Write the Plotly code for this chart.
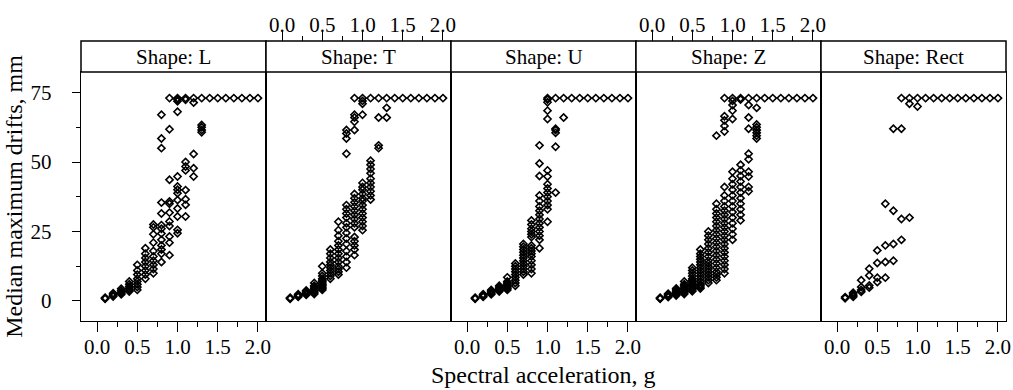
import plotly.graph_objects as go

sa_levels = [0.1, 0.2, 0.3, 0.4, 0.5, 0.6, 0.7, 0.8, 0.9, 1.0,
             1.1, 1.2, 1.3, 1.4, 1.5, 1.6, 1.7, 1.8, 1.9, 2.0]
shapes = ["L", "T", "U", "Z", "Rect"]

drift_L = [
    [0.8, 1.0, 1.2],
    [1.6, 2.0, 2.4, 2.8],
    [2.4, 2.8, 3.2, 3.8, 4.4],
    [3.4, 4.0, 4.6, 5.2, 6.0, 7.0],
    [4.0, 5.0, 6.0, 7.0, 8.0, 9.5, 11.0, 13.0],
    [8.0, 9.5, 11.0, 12.5, 14.0, 15.5, 17.0, 19.0],
    [10.0, 11.5, 13.0, 14.5, 16.0, 18.0, 21.0, 24.0, 26.5, 27.5],
    [14.0, 17.0, 18.5, 20.0, 22.0, 24.3, 26.0, 27.3, 31.5, 35.4, 55.0, 58.5, 67.0],
    [16.5, 21.0, 23.2, 27.0, 28.6, 31.8, 35.0, 35.8, 43.6, 61.8, 73.0],
    [24.4, 25.6, 30.4, 33.3, 36.3, 38.8, 40.0, 41.2, 44.8, 68.1, 71.9, 72.5, 73.0],
    [30.4, 34.6, 36.6, 39.9, 47.0, 48.4, 50.0, 72.4, 73.0],
    [44.8, 47.8, 52.9, 71.4, 73.0],
    [60.7, 61.5, 62.5, 63.3, 73.0],
    [73.0], [73.0], [73.0], [73.0], [73.0], [73.0], [73.0],
]

drift_T = [
    [0.8, 1.0, 1.2],
    [1.5, 1.8, 2.1, 2.4],
    [2.2, 2.6, 3.0, 3.4, 3.8],
    [2.5, 3.0, 3.5, 4.0, 4.5, 5.0, 5.5, 6.5],
    [4.0, 4.5, 5.0, 5.5, 6.0, 6.5, 7.0, 7.5, 8.0, 9.0, 10.0, 12.5],
    [8.0, 9.0, 10.0, 11.0, 12.0, 13.0, 14.0, 15.5, 17.0, 18.5],
    [9.5, 10.5, 11.5, 12.5, 14.0, 15.5, 17.0, 18.5, 20.0, 21.5, 23.5, 25.5, 28.5],
    [12.0, 14.0, 16.0, 18.0, 20.5, 22.5, 24.5, 26.5, 28.0, 30.0, 31.5, 33.0, 34.5,
     53.0, 58.5, 60.3, 61.5],
    [16.5, 18.5, 20.0, 21.5, 23.0, 26.5, 28.0, 29.5, 31.0, 32.5, 34.0, 35.5, 37.0,
     38.5, 61.5, 64.5, 66.0, 67.0, 73.0],
    [25.5, 27.0, 28.5, 30.0, 31.5, 33.0, 34.5, 36.0, 37.0, 38.5, 40.0, 41.0, 42.5,
     67.0, 71.0, 72.0, 73.0],
    [36.5, 38.0, 39.5, 41.0, 42.5, 44.0, 46.0, 47.5, 49.0, 50.5, 73.0],
    [55.0, 56.0, 66.0, 73.0],
    [66.0, 69.5, 73.0],
    [73.0], [73.0], [73.0], [73.0], [73.0], [73.0], [73.0],
]

drift_U = [
    [0.8, 1.0, 1.2],
    [1.5, 1.8, 2.1, 2.4],
    [2.4, 2.8, 3.2, 3.6, 4.0],
    [3.4, 3.8, 4.2, 4.6, 5.0, 5.5],
    [4.0, 4.5, 5.0, 5.5, 6.0, 6.5, 7.0, 8.5],
    [5.5, 6.5, 7.5, 8.5, 9.5, 10.5, 11.5, 12.5, 13.5],
    [9.5, 10.5, 11.5, 12.5, 13.5, 14.5, 15.5, 16.5, 17.5, 18.5, 19.5, 20.5],
    [10.0, 11.5, 13.0, 14.5, 16.0, 17.0, 18.0, 19.0, 20.0, 23.0, 24.0, 25.0, 26.0,
     27.5, 29.0],
    [19.0, 22.0, 23.5, 25.0, 26.5, 28.0, 29.5, 31.0, 32.5, 34.0, 36.0, 38.0, 45.0,
     49.5, 56.0],
    [28.5, 33.0, 34.5, 36.0, 37.5, 39.0, 40.5, 42.0, 44.8, 47.0, 65.5, 68.5, 71.5,
     72.5, 73.0],
    [39.0, 55.5, 60.5, 61.5, 62.0, 73.0],
    [66.0, 73.0],
    [73.0], [73.0], [73.0], [73.0], [73.0], [73.0], [73.0], [73.0],
]

drift_Z = [
    [0.8, 1.0, 1.2],
    [1.4, 1.7, 2.0, 2.3, 2.6],
    [2.0, 2.5, 3.0, 3.5, 4.0, 4.5],
    [2.5, 3.0, 3.5, 4.0, 4.5, 5.0, 5.5, 6.0, 7.0],
    [3.5, 4.0, 4.5, 5.0, 5.5, 6.0, 6.5, 7.0, 7.5, 8.0, 9.0, 10.0, 11.0, 12.0],
    [4.5, 5.0, 5.5, 6.0, 7.0, 8.0, 9.0, 10.0, 11.0, 12.0, 13.0, 14.0, 15.0, 16.0,
     17.0, 18.5],
    [6.5, 7.5, 8.5, 9.5, 10.5, 11.5, 12.5, 13.5, 14.5, 16.0, 17.5, 19.0, 20.5, 22.0,
     23.5, 25.0],
    [7.5, 8.5, 9.5, 10.5, 12.0, 13.5, 15.0, 16.5, 18.0, 19.5, 21.0, 22.5, 24.0, 25.5,
     27.0, 28.5, 30.0, 31.5, 33.0, 35.0, 59.5],
    [10.0, 11.5, 13.0, 14.5, 16.0, 17.5, 19.0, 20.5, 22.0, 23.5, 25.0, 26.5, 28.0,
     29.5, 31.0, 32.5, 34.0, 36.0, 38.0, 41.0, 61.0, 63.0, 65.0, 66.5, 73.0],
    [22.0, 24.0, 26.0, 28.0, 30.0, 32.0, 34.0, 36.0, 38.0, 40.0, 42.0, 44.0, 46.5,
     65.5, 68.5, 70.5, 72.0, 73.0],
    [29.0, 31.0, 33.0, 35.0, 37.0, 39.0, 41.0, 43.0, 45.0, 47.0, 49.0, 72.5, 73.0],
    [39.5, 41.0, 44.8, 46.5, 51.0, 53.0, 62.0, 66.0, 70.5, 73.0],
    [58.5, 59.5, 60.5, 61.5, 62.5, 63.5, 69.5, 73.0],
    [73.0], [73.0], [73.0], [73.0], [73.0], [73.0], [73.0],
]

drift_Rect = [
    [1.0, 1.4],
    [1.5, 2.0, 2.5, 3.0],
    [3.3, 4.0, 5.0, 7.5],
    [4.8, 5.6, 9.2, 11.6],
    [6.8, 8.4, 13.7, 18.2],
    [8.4, 14.0, 20.0, 35.0],
    [14.5, 20.5, 32.5, 62.0],
    [22.0, 29.5, 62.0, 73.0],
    [30.0, 71.0, 73.0],
    [70.0, 73.0],
    [73.0], [73.0], [73.0], [73.0], [73.0], [73.0], [73.0], [73.0], [73.0], [73.0],
]

drifts = [drift_L, drift_T, drift_U, drift_Z, drift_Rect]

x_major = [0.0, 0.5, 1.0, 1.5, 2.0]
x_minor = [0.25, 0.75, 1.25, 1.75]
y_major = [0, 25, 50, 75]
y_minor = [12.5, 37.5, 62.5]

FONT = "Liberation Serif, Times New Roman, serif"
W, H = 1013, 390
ML, MR, MT, MB = 81, 7, 41, 69
plot_h = H - MT - MB
strip_h = 31
ydom_top = (plot_h - strip_h) / plot_h
XR = [-0.2, 2.1]
YR = [-7.2, 82.4]

fig = go.Figure()
for i, (name, data) in enumerate(zip(shapes, drifts)):
    xs, ys = [], []
    for s, vals in zip(sa_levels, data):
        for v in vals:
            xs.append(s)
            ys.append(v)
    sfx = "" if i == 0 else str(i + 1)
    fig.add_trace(go.Scatter(
        x=xs, y=ys, mode="markers", xaxis="x" + sfx, yaxis="y" + sfx,
        marker=dict(symbol="diamond-open", size=5.5, color="black",
                    line=dict(width=1.6, color="black")),
        showlegend=False, hoverinfo="skip"))

axis_line = dict(showline=True, linecolor="black", linewidth=1.4, mirror=True,
                 showgrid=False, zeroline=False, automargin=False)
tickfont = dict(family=FONT, size=21, color="black")

layout = dict(
    width=W, height=H, margin=dict(l=ML, r=MR, t=MT, b=MB, autoexpand=False),
    plot_bgcolor="white", paper_bgcolor="white",
    font=dict(family=FONT, color="black"),
    showlegend=False,
)

n = len(shapes)
for i in range(n):
    sfx = "" if i == 0 else str(i + 1)
    dom = [i / n, (i + 1) / n]
    bottom = i in (0, 2, 4)
    xa = dict(axis_line, domain=dom, range=XR, anchor="y" + sfx,
              tickvals=x_major, ticktext=[f"{v:.1f}" for v in x_major],
              tickfont=tickfont)
    if bottom:
        xa.update(ticks="outside", ticklen=10, tickwidth=1, tickcolor="black",
                  showticklabels=True, ticklabelstandoff=-3,
                  minor=dict(tickvals=x_minor, ticks="outside", ticklen=5,
                             tickwidth=1, tickcolor="black"))
    else:
        xa.update(ticks="", showticklabels=False)
    ya = dict(axis_line, domain=[0, ydom_top], range=YR, anchor="x" + sfx)
    if i == 0:
        ya.update(tickvals=y_major, ticks="outside", ticklen=8, tickwidth=1,
                  tickcolor="black", tickfont=tickfont, ticklabelstandoff=16,
                  minor=dict(tickvals=y_minor, ticks="outside", ticklen=4,
                             tickwidth=1, tickcolor="black"),
                  title=dict(text="Median maximum drifts, mm",
                             font=dict(family=FONT, size=24, color="black"),
                             standoff=1))
    else:
        ya.update(matches="y", showticklabels=False, ticks="")
    layout["xaxis" + sfx] = xa
    layout["yaxis" + sfx] = ya

# top axes for panels T and Z (alternating lattice layout)
for k, base in ((6, "x2"), (7, "x4")):
    layout[f"xaxis{k}"] = dict(
        overlaying=base, side="top", anchor="free", position=1.0,
        range=XR, showgrid=False, zeroline=False, showline=False,
        automargin=False,
        tickvals=x_major, ticktext=[f"{v:.1f}" for v in x_major],
        ticks="outside", ticklen=10, tickwidth=1, tickcolor="black",
        tickfont=tickfont, ticklabelstandoff=-9,
        minor=dict(tickvals=x_minor, ticks="outside", ticklen=5,
                   tickwidth=1, tickcolor="black"))
    fig.add_trace(go.Scatter(x=[None], y=[None], xaxis=f"x{k}",
                             yaxis="y" + base[1:], mode="markers",
                             showlegend=False, hoverinfo="skip"))

fig.update_layout(**layout)

for i, name in enumerate(shapes):
    fig.add_shape(type="rect", xref="paper", yref="paper",
                  x0=i / n, x1=(i + 1) / n, y0=ydom_top, y1=1.0,
                  line=dict(color="black", width=1.5), fillcolor="white",
                  layer="above")
    fig.add_annotation(text=f"Shape: {name}", xref="paper", yref="paper",
                       x=(i + 0.5) / n, y=(ydom_top + 1) / 2, showarrow=False,
                       xanchor="center", yanchor="middle",
                       font=dict(family=FONT, size=21, color="black"))

# x-axis title (centred under the panel row)
fig.add_annotation(text="Spectral acceleration, g", xref="paper", yref="paper",
                   x=0.5, y=-(375 - (H - MB)) / plot_h, showarrow=False,
                   xanchor="center", yanchor="middle",
                   font=dict(family=FONT, size=24, color="black"))

# remove the browser's default 8px body margin so the figure fills the window
fig.write_html("out.html",
               config={"displayModeBar": False},
               post_script="document.body.style.margin='0px';"
                           "document.documentElement.style.overflow='hidden';")
